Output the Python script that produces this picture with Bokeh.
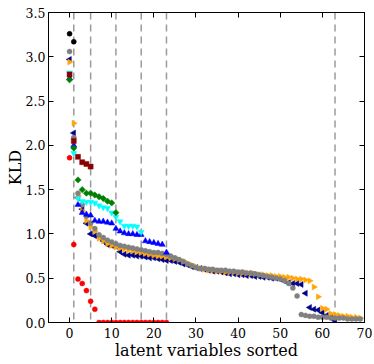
import math
from bokeh.plotting import figure
from bokeh.models import Range1d, LinearAxis, Span, FixedTicker, PrintfTickFormatter, Title
from bokeh.embed import file_html
from bokeh.resources import INLINE

# ---- data ----
black_vals = [3.26, 3.17]
gray_vals = [3.06, 2.09, 1.46, 1.33, 1.20, 1.12, 1.06, 0.99, 0.96, 0.93,
             0.91, 0.89, 0.87, 0.86, 0.85, 0.84, 0.83, 0.82, 0.81, 0.80,
             0.79, 0.79, 0.78, 0.77, 0.75, 0.73, 0.71, 0.69, 0.66, 0.64,
             0.62, 0.61, 0.61, 0.60, 0.60, 0.59, 0.59, 0.59, 0.58, 0.58,
             0.57, 0.57, 0.56, 0.56, 0.55, 0.54, 0.53, 0.52, 0.51, 0.50,
             0.49, 0.47, 0.44, 0.39, 0.30, 0.09, 0.08, 0.07, 0.07, 0.06,
             0.06, 0.06, 0.05, 0.05, 0.05, 0.05, 0.04, 0.04, 0.04, 0.04]
orange_vals = [2.94, 2.25, 1.43, 1.26, 1.15, 1.08, 1.03, 0.95, 0.92, 0.89,
               0.87, 0.85, 0.84, 0.83, 0.82, 0.81, 0.80, 0.79, 0.78, 0.77,
               0.76, 0.75, 0.75, 0.74, 0.73, 0.72, 0.71, 0.69, 0.67, 0.65,
               0.63, 0.61, 0.60, 0.59, 0.59, 0.58, 0.58, 0.57, 0.57, 0.57,
               0.56, 0.56, 0.56, 0.55, 0.55, 0.54, 0.54, 0.53, 0.53, 0.52,
               0.52, 0.51, 0.51, 0.50, 0.49, 0.49, 0.48, 0.47, 0.40, 0.29,
               0.16, 0.15, 0.10, 0.09, 0.08, 0.07, 0.07, 0.06, 0.06, 0.05]
navy_vals = [2.97, 2.14, 1.41, 1.28, 1.12, 1.00, 0.98, 0.97, 0.92, 0.88,
             0.87, 0.86, 0.80, 0.77, 0.76, 0.76, 0.75, 0.75, 0.74, 0.73,
             0.73, 0.72, 0.71, 0.70, 0.70, 0.69, 0.68, 0.66, 0.65, 0.63,
             0.62, 0.61, 0.60, 0.59, 0.58, 0.58, 0.57, 0.56, 0.55, 0.55,
             0.54, 0.54, 0.53, 0.53, 0.52, 0.52, 0.51, 0.51, 0.50, 0.50,
             0.49, 0.47, 0.45, 0.44, 0.44, 0.43, 0.33, 0.17, 0.15, 0.14,
             0.11, 0.08, 0.06, 0.02]
blue_vals = [2.76, 2.00, 1.33, 1.24, 1.22, 1.21, 1.15, 1.14, 1.14, 1.13,
             1.12, 1.06, 1.03, 1.01, 1.00, 1.00, 0.99, 0.99, 0.92, 0.91,
             0.90, 0.89, 0.88, 0.79]
cyan_vals = [2.82, 1.91, 1.40, 1.37, 1.36, 1.36, 1.35, 1.32, 1.30, 1.29,
             1.24, 1.19, 1.14, 1.09, 1.09, 1.09, 1.08, 1.02]
green_vals = [2.74, 1.97, 1.61, 1.50, 1.46, 1.46, 1.44, 1.42, 1.40, 1.37,
              1.35, 1.24]
darkred_vals = [2.80, 2.05, 1.87, 1.81, 1.79, 1.76]
red_vals = [1.86, 0.88, 0.49, 0.44, 0.36, 0.24, 0.15, 0.0, 0.0, 0.0,
            0.0, 0.0, 0.0, 0.0, 0.0, 0.0, 0.0, 0.0, 0.0, 0.0,
            0.0, 0.0, 0.0, 0.0]
dashed_x = [1, 5, 11, 17, 23, 63]
x_ticks = [0, 10, 20, 30, 40, 50, 60, 70]
y_ticks = [0.0, 0.5, 1.0, 1.5, 2.0, 2.5, 3.0, 3.5]
x_label = "latent variables sorted"
y_label = "KLD"

FONT = "DejaVu Serif"

p = figure(frame_width=316, frame_height=310, x_range=Range1d(-5, 70), y_range=Range1d(0, 3.5),
           output_backend="svg", toolbar_location=None,
           min_border_left=48, min_border_right=8, min_border_top=12, min_border_bottom=40,
           y_axis_label=y_label)
p.grid.visible = False
p.outline_line_color = "black"
p.outline_line_width = 1
p.background_fill_color = "white"
p.border_fill_color = "white"

p.add_layout(LinearAxis(), "right")
p.add_layout(LinearAxis(), "above")

for ax in p.xaxis:
    ax.ticker = FixedTicker(ticks=x_ticks)
for ax in p.yaxis:
    ax.ticker = FixedTicker(ticks=y_ticks)
    ax.formatter = PrintfTickFormatter(format="%.1f")

for ax in p.axis:
    ax.major_tick_in = 5
    ax.major_tick_out = 0
    ax.minor_tick_line_color = None
    ax.axis_line_color = "black"
    ax.major_tick_line_color = "black"
    ax.major_label_text_font = FONT
    ax.major_label_text_font_size = "12.5px"
    ax.major_label_text_color = "black"
    ax.axis_label_text_font = FONT
    ax.axis_label_text_font_size = "16px"
    ax.axis_label_text_font_style = "normal"
    ax.axis_label_text_color = "black"

p.xaxis[0].major_label_standoff = 3
p.yaxis[0].major_label_standoff = 3
p.yaxis[0].axis_label_standoff = -2
for ax in (p.right[0], p.above[0]):
    ax.major_label_overrides = {t: "" for t in (x_ticks if ax in p.above else y_ticks)}
    ax.major_label_standoff = 0

# x-axis title as a below-panel title, closer to the tick labels
p.add_layout(Title(text=x_label, text_font=FONT, text_font_size="16px",
                   text_font_style="normal", text_color="black",
                   align="center", standoff=-4, offset=-2), "below")

for xv in dashed_x:
    p.add_layout(Span(location=xv, dimension="height", line_color="#9a9a9a",
                      line_dash="7 5", line_width=1.5, level="underlay"))

def draw(vals, marker, color, size, angle=0.0):
    xs = list(range(len(vals)))
    p.scatter(xs, vals, marker=marker, size=size, fill_color=color,
              line_color=color, line_width=0.5, angle=angle)

draw(navy_vals, "triangle", "#00008B", 6, math.pi / 2)
draw(orange_vals, "triangle", "#FFA500", 6, -math.pi / 2)
draw(gray_vals, "circle", "#808080", 5)
draw(blue_vals, "triangle", "#0000FF", 6)
draw(cyan_vals, "inverted_triangle", "#00FFFF", 6)
draw(green_vals, "square", "#008000", 4.5, math.pi / 4)
draw(darkred_vals, "square", "#8B0000", 5)
draw(red_vals, "circle", "#FF0000", 5)
draw(black_vals, "circle", "#000000", 5)

open("out.html", "w").write(file_html(p, INLINE))
